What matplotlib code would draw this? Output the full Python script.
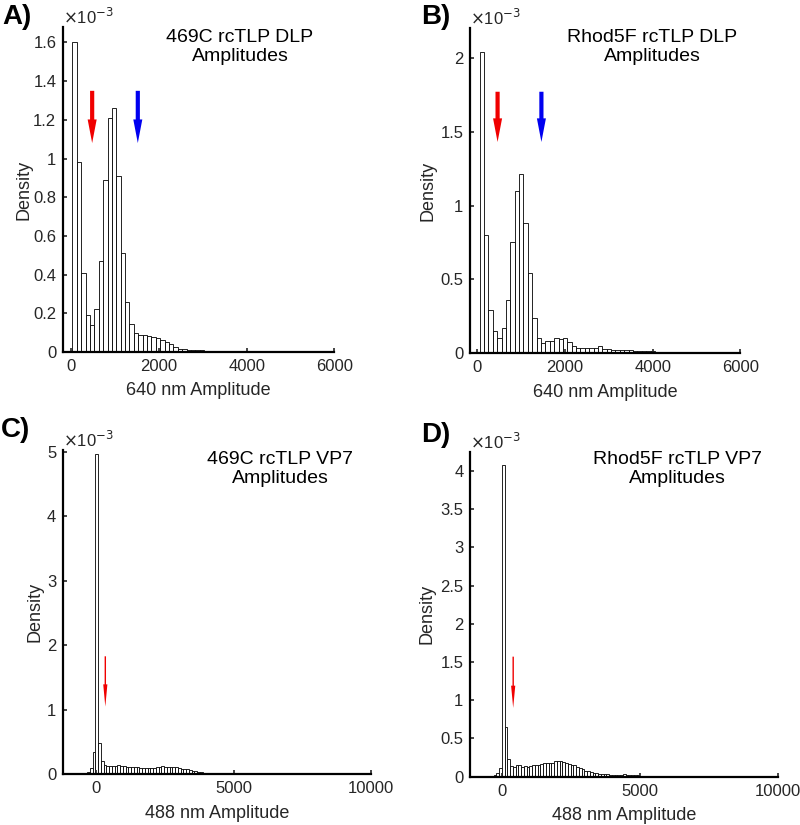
import numpy as np
import matplotlib.pyplot as plt
from matplotlib.patches import FancyArrowPatch
from matplotlib.ticker import FuncFormatter

plt.rcParams['font.family'] = ['Liberation Sans', 'DejaVu Sans']

# densities are in units of 1e-3, bin width 100
a_start = 30
a_heights = [1.60, 0.98, 0.41, 0.19, 0.14, 0.22, 0.47, 0.89, 1.21, 1.26, 0.91, 0.51,
             0.26, 0.145, 0.10, 0.09, 0.088, 0.085, 0.08, 0.072, 0.064, 0.052, 0.041,
             0.027, 0.018, 0.015, 0.013, 0.011, 0.010, 0.008, 0.007, 0.005, 0.003, 0.002]

b_start = 50
b_heights = [2.04, 0.80, 0.29, 0.15, 0.10, 0.17, 0.36, 0.75, 1.10, 1.21, 0.88, 0.54,
             0.24, 0.106, 0.068, 0.083, 0.083, 0.10, 0.097, 0.10, 0.075, 0.052, 0.039,
             0.039, 0.039, 0.039, 0.036, 0.052, 0.03, 0.03, 0.025, 0.025, 0.025, 0.02,
             0.02, 0.018, 0.016, 0.014, 0.012, 0.013, 0.011, 0.010, 0.009, 0.009, 0.008,
             0.008, 0.007, 0.007, 0.006, 0.006, 0.005, 0.005, 0.005, 0.004, 0.005, 0.004,
             0.004, 0.003, 0.003]

c_start = -425
c_heights = [0.01, 0.03, 0.10, 0.34, 4.97, 0.49, 0.20,
             0.145, 0.13, 0.13, 0.13, 0.135, 0.14, 0.135, 0.13, 0.12, 0.11, 0.11, 0.114,
             0.11, 0.104, 0.098, 0.098, 0.098, 0.098, 0.104, 0.11, 0.12, 0.124, 0.114,
             0.114, 0.114, 0.11, 0.11, 0.098, 0.083, 0.078, 0.078, 0.067, 0.057, 0.047,
             0.041, 0.031, 0.026, 0.021, 0.016, 0.016, 0.016, 0.01, 0.01]

d_start = -325
d_heights = [0.02, 0.045, 0.11, 4.07, 0.65, 0.23,
             0.14, 0.13, 0.148, 0.148, 0.13, 0.14, 0.13, 0.14, 0.148, 0.153, 0.16, 0.166,
             0.175, 0.18, 0.18, 0.18, 0.21, 0.20, 0.20, 0.19, 0.175, 0.17, 0.16, 0.148,
             0.13, 0.114, 0.096, 0.079, 0.07, 0.061, 0.052, 0.044, 0.035, 0.03, 0.035,
             0.03, 0.026, 0.022, 0.026, 0.026, 0.022, 0.03, 0.022, 0.022, 0.022, 0.017,
             0.017, 0.015, 0.015, 0.012, 0.01, 0.012, 0.008, 0.01, 0.006, 0.006, 0.008,
             0.005]

titles = ['469C rcTLP DLP\nAmplitudes', 'Rhod5F rcTLP DLP\nAmplitudes',
          '469C rcTLP VP7\nAmplitudes', 'Rhod5F rcTLP VP7\nAmplitudes']
xlabels = ['640 nm Amplitude', '640 nm Amplitude', '488 nm Amplitude', '488 nm Amplitude']
letters = ['A)', 'B)', 'C)', 'D)']

# (x, top, tip, colour) for arrows
a_arrows = [(480, 1.35, 1.08, '#f00000'), (1520, 1.35, 1.08, '#0000f0')]
b_arrows = [(460, 1.77, 1.43, '#f00000'), (1460, 1.77, 1.43, '#0000f0')]
c_arrows = [(340, 1.83, 1.05, '#f00000')]
d_arrows = [(390, 1.57, 0.9, '#f00000')]

gray = '#262626'
fig = plt.figure(figsize=(8, 8.25), dpi=100)

panels = [
    # axes rect, start, heights, xlim, ylim, xticks, yticks, arrows, thick,
    # title pos, letter pos, ylabel x
    ([0.079, 0.5733, 0.339, 0.394], a_start, a_heights, (-180, 6000), (0, 1.68),
     [0, 2000, 4000, 6000], np.arange(0, 1.61, 0.2), a_arrows, True,
     (0.30, 0.965), (0.003, 0.995), -0.114),
    ([0.588, 0.5718, 0.3375, 0.394], b_start, b_heights, (-160, 6000), (0, 2.2),
     [0, 2000, 4000, 6000], np.arange(0, 2.01, 0.5), b_arrows, True,
     (0.815, 0.965), (0.527, 0.995), -0.125),
    ([0.079, 0.0615, 0.385, 0.393], c_start, c_heights, (-1190, 10000), (0, 5.03),
     [0, 5000, 10000], np.arange(0, 5.01, 1), c_arrows, False,
     (0.35, 0.453), (0.001, 0.495), -0.063),
    ([0.588, 0.0585, 0.384, 0.394], d_start, d_heights, (-1165, 10000), (0, 4.25),
     [0, 5000, 10000], np.arange(0, 4.01, 0.5), d_arrows, False,
     (0.847, 0.453), (0.527, 0.489), -0.113),
]

for i, (rect, start, heights, xlim, ylim, xt, yt, arrows, thick, tpos, lpos, ylx) in enumerate(panels):
    ax = fig.add_axes(rect)
    edges = start + 100 * np.arange(len(heights))
    ax.bar(edges, heights, width=100, align='edge', facecolor='white',
           edgecolor='black', linewidth=0.6)
    ax.set_xlim(*xlim)
    ax.set_ylim(*ylim)
    ax.set_xticks(xt)
    ax.set_yticks(yt)
    ax.yaxis.set_major_formatter(FuncFormatter(lambda v, p: '%g' % round(v, 2)))
    for s in ['top', 'right']:
        ax.spines[s].set_visible(False)
    for s in ['left', 'bottom']:
        ax.spines[s].set_linewidth(1.6)
        ax.spines[s].set_color('black')
    ax.tick_params(direction='in', length=3, width=1.2, labelsize=12, colors=gray,
                   labelcolor=gray, pad=5)
    ax.set_xlabel(xlabels[i], fontsize=13, color=gray, labelpad=6)
    ax.set_ylabel('Density', fontsize=13, color=gray)
    ax.yaxis.set_label_coords(ylx, 0.5)
    ax.text(0.0, 1.0, r'$\times$10$^{-3}$', transform=ax.transAxes, fontsize=12,
            color=gray, ha='left', va='bottom')
    fig.text(tpos[0], tpos[1], titles[i], ha='center', va='top', fontsize=14,
             color='black', linespacing=1.15)
    fig.text(lpos[0], lpos[1], letters[i], ha='left', va='top', fontsize=20,
             fontweight='bold', color='black')
    for x, top, tip, col in arrows:
        if thick:
            style = 'simple,head_width=6.5,head_length=17,tail_width=3'
        else:
            style = 'simple,head_width=3,head_length=16,tail_width=1'
        ax.add_patch(FancyArrowPatch((x, top), (x, tip), arrowstyle=style,
                                     mutation_scale=1, color=col, lw=0,
                                     shrinkA=0, shrinkB=0))

fig.savefig('out.png', dpi=100)
